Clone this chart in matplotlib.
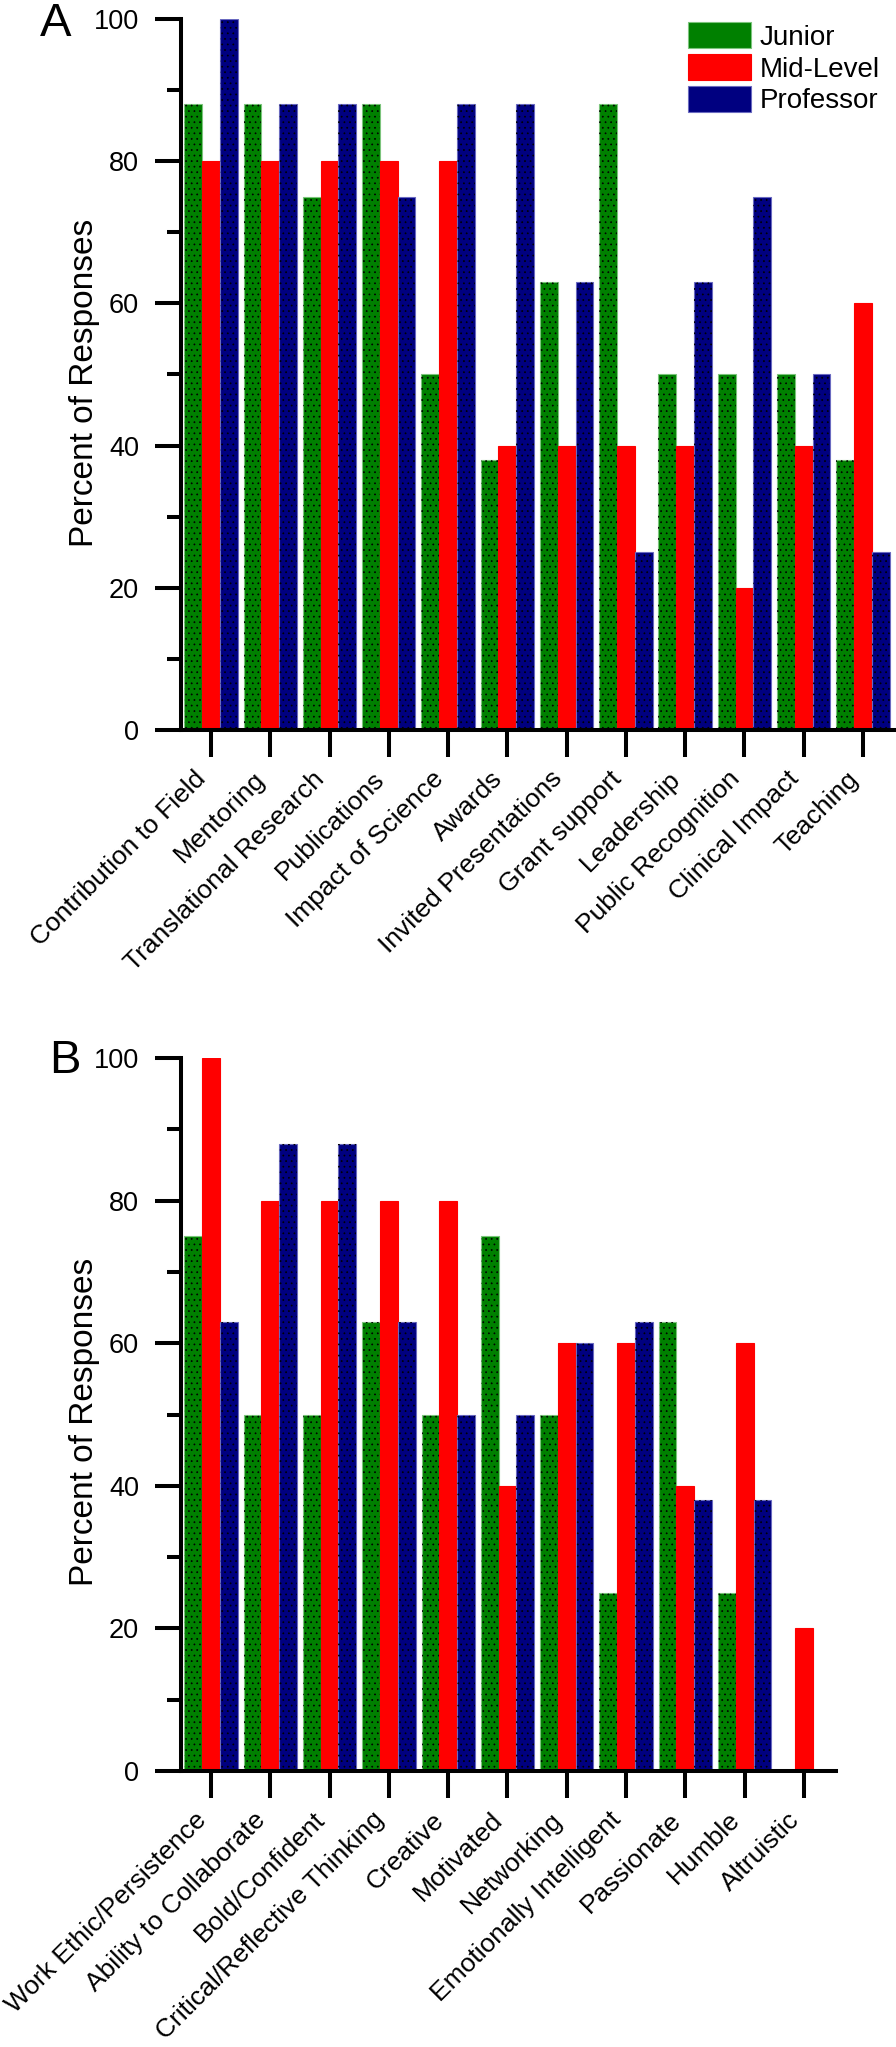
import matplotlib
matplotlib.use('Agg')
import matplotlib.pyplot as plt
import numpy as np
from matplotlib.ticker import MultipleLocator, FixedLocator
from matplotlib.patches import Patch

plt.rcParams['font.family'] = ['Liberation Sans', 'DejaVu Sans']
plt.rcParams['hatch.linewidth'] = 0.5

series = ['Junior', 'Mid-Level', 'Professor']
colors = ['#008000', '#ff0000', '#000080']
edges = ['#7cc47c', '#ff0000', '#6a6ac0']
hatches = ['...', '', '...']

categories_a = ['Contribution to Field', 'Mentoring', 'Translational Research', 'Publications',
                'Impact of Science', 'Awards', 'Invited Presentations', 'Grant support',
                'Leadership', 'Public Recognition', 'Clinical Impact', 'Teaching']
junior_a = [88, 88, 75, 88, 50, 38, 63, 88, 50, 50, 50, 38]
mid_a = [80, 80, 80, 80, 80, 40, 40, 40, 40, 20, 40, 60]
prof_a = [100, 88, 88, 75, 88, 88, 63, 25, 63, 75, 50, 25]

categories_b = ['Work Ethic/Persistence', 'Ability to Collaborate', 'Bold/Confident',
                'Critical/Reflective Thinking', 'Creative', 'Motivated', 'Networking',
                'Emotionally Intelligent', 'Passionate', 'Humble', 'Altruistic']
junior_b = [75, 50, 50, 63, 50, 75, 50, 25, 63, 25, 0]
mid_b = [100, 80, 80, 80, 80, 40, 60, 60, 40, 60, 20]
prof_b = [63, 88, 88, 63, 50, 50, 60, 63, 38, 38, 0]

W, H = 896, 2047
DPI = 100
fig = plt.figure(figsize=(W / DPI, H / DPI), dpi=DPI)


def rect(left, right, top, bottom):
    return [left / W, 1 - bottom / H, (right - left) / W, (bottom - top) / H]


LW = 2.9


def draw_panel(ax, cats, vals, xmax):
    x = np.arange(len(cats))
    w = 0.3
    for i, v in enumerate(vals):
        pos = x + (i - 1) * w
        ax.bar(pos, v, width=w, color=colors[i], edgecolor=edges[i], linewidth=0.8, zorder=2)
        if hatches[i]:
            ax.bar(pos, v, width=w, facecolor='none', edgecolor='black', linewidth=0,
                   hatch=hatches[i], zorder=3)
    ax.set_xlim(-0.506, xmax)
    ax.set_ylim(0, 100)
    for s in ['top', 'right']:
        ax.spines[s].set_visible(False)
    for s in ['left', 'bottom']:
        ax.spines[s].set_linewidth(LW)
        ax.spines[s].set_zorder(5)
    ax.yaxis.set_major_locator(MultipleLocator(20))
    ax.yaxis.set_minor_locator(FixedLocator([10, 30, 50, 70, 90]))
    ax.tick_params(axis='y', which='major', length=18.7, width=LW, labelsize=19.5, pad=11.5, direction='out')
    ax.tick_params(axis='y', which='minor', length=10, width=LW, direction='out')
    ax.set_xticks(x)
    ax.set_xticklabels(cats, rotation=45, ha='right', va='top', rotation_mode='default')
    ax.tick_params(axis='x', which='major', length=19.4, width=LW, labelsize=19, pad=7, direction='out')
    ax.tick_params(axis='x', which='minor', bottom=False)


axA = fig.add_axes(rect(181, 896, 19, 730))
draw_panel(axA, categories_a, [junior_a, mid_a, prof_a], 11.557)
axB = fig.add_axes(rect(181, 836, 1058, 1771))
draw_panel(axB, categories_b, [junior_b, mid_b, prof_b], 10.54)

fig.text(84 / W, 1 - 383 / H, 'Percent of Responses', rotation=90, ha='center', va='center', fontsize=24)
fig.text(84 / W, 1 - 1422 / H, 'Percent of Responses', rotation=90, ha='center', va='center', fontsize=24)

fig.text(40 / W, 1 - 36 / H, 'A', fontsize=34, ha='left', va='baseline')
fig.text(49 / W, 1 - 1073 / H, 'B', fontsize=34, ha='left', va='baseline')

handles = [Patch(facecolor=colors[i], edgecolor=edges[i], linewidth=0.8, label=series[i]) for i in range(3)]
leg = axA.legend(handles=handles, loc='upper left', bbox_to_anchor=(688 / W, 1 - 22 / H),
                 bbox_transform=fig.transFigure, frameon=False, fontsize=20,
                 handlelength=2.27, handleheight=1.08, labelspacing=0.12, handletextpad=0.32,
                 borderpad=0, borderaxespad=0)

fig.savefig('out.png', dpi=DPI)
